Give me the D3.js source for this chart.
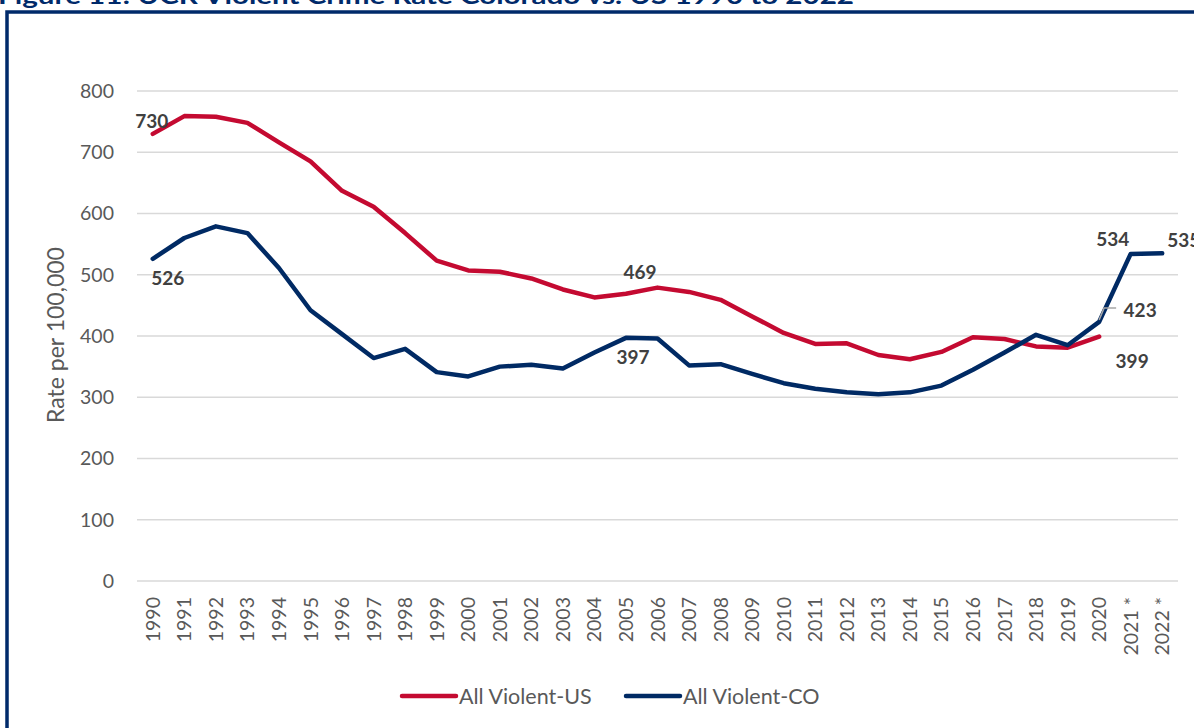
<!DOCTYPE html>
<html>
<head>
<meta charset="utf-8">
<script src="https://cdn.jsdelivr.net/npm/d3@7"></script>
<style>
  html, body { margin: 0; padding: 0; background: #fff; }
  svg { display: block; font-family: Lato, "Open Sans", sans-serif; }
</style>
</head>
<body>
<svg width="1194" height="728"></svg>
<script>
// data
const years = ["1990","1991","1992","1993","1994","1995","1996","1997","1998","1999",
  "2000","2001","2002","2003","2004","2005","2006","2007","2008","2009",
  "2010","2011","2012","2013","2014","2015","2016","2017","2018","2019",
  "2020","2021 *","2022 *"];

const usRate = [730, 759, 758, 748, 716, 685, 637, 611, 568, 523,
  507, 505, 494, 476, 463, 469, 479, 472, 459, 432,
  405, 387, 388, 369, 362, 374, 398, 395, 383, 381,
  399];

const coRate = [526, 560, 579, 568, 511, 442, 403, 364, 379, 341,
  334, 350, 353, 347, 373, 397, 396, 352, 354, 338,
  323, 314, 308, 305, 308, 319, 345, 373, 402, 385,
  423, 534, 535];

const yTicks = [0, 100, 200, 300, 400, 500, 600, 700, 800];

const seriesNames = ["All Violent-US", "All Violent-CO"];
const seriesColors = ["#c40a31", "#002a64"];

const title = "Figure 11: UCR Violent Crime Rate Colorado vs. US 1990 to 2022";

const svg = d3.select("svg");

// frame
svg.append("rect")
  .attr("x", 7).attr("y", 12)
  .attr("width", 1260).attr("height", 800)
  .attr("fill", "none")
  .attr("stroke", "#002a6a")
  .attr("stroke-width", 3.5);

// title, mostly cut off at the top edge
svg.append("text")
  .attr("x", -2).attr("y", 4)
  .attr("font-weight", "bold")
  .attr("font-size", 22)
  .attr("fill", "#002a6a")
  .attr("textLength", 856)
  .attr("lengthAdjust", "spacingAndGlyphs")
  .text(title);

const x = d3.scaleBand().domain(years).range([137, 1178]);
const y = d3.scaleLinear().domain([0, 800]).range([581, 91]);
const cx = d => x(d) + x.bandwidth() / 2;

// grid
svg.append("g")
  .selectAll("line")
  .data(yTicks)
  .join("line")
    .attr("x1", 137).attr("x2", 1178)
    .attr("y1", d => y(d)).attr("y2", d => y(d))
    .attr("stroke", "#d9d9d9")
    .attr("stroke-width", 1.5);

// y axis labels
const yAxis = d3.axisLeft(y).tickValues(yTicks).tickSize(0).tickPadding(23);
svg.append("g")
  .attr("transform", "translate(137,0)")
  .call(yAxis)
  .call(g => g.select(".domain").remove())
  .call(g => g.selectAll("text")
    .attr("font-family", "Lato, sans-serif")
    .attr("font-size", 19.5)
    .attr("fill", "#595959"));

// x axis labels (rotated)
const xAxis = d3.axisBottom(x).tickSize(0).tickPadding(0);
svg.append("g")
  .attr("transform", "translate(0,581)")
  .call(xAxis)
  .call(g => g.select(".domain").remove())
  .call(g => g.selectAll("text")
    .attr("font-family", "Lato, sans-serif")
    .attr("font-size", 19.5)
    .attr("fill", "#595959")
    .attr("text-anchor", "end")
    .attr("dy", null)
    .attr("y", 0)
    .attr("transform", "translate(7,16) rotate(-90)"));

// y axis title
svg.append("text")
  .attr("transform", "translate(64,335) rotate(-90)")
  .attr("text-anchor", "middle")
  .attr("font-size", 23)
  .attr("fill", "#595959")
  .text("Rate per 100,000");

// lines
const line = d3.line()
  .x((d, i) => cx(years[i]))
  .y(d => y(d));

[usRate, coRate].forEach((vals, k) => {
  svg.append("path")
    .datum(vals)
    .attr("d", line)
    .attr("fill", "none")
    .attr("stroke", seriesColors[k])
    .attr("stroke-width", 4.5)
    .attr("stroke-linejoin", "round")
    .attr("stroke-linecap", "round");
});

// data labels: series index, year index, offset from the point
const labelSpec = [
  { s: 0, i: 0,  dx: -1,  dy: -13, anchor: "middle" },
  { s: 1, i: 0,  dx: 15,  dy: 19,  anchor: "middle" },
  { s: 0, i: 15, dx: 14,  dy: -22, anchor: "middle" },
  { s: 1, i: 15, dx: 7,   dy: 19,  anchor: "middle" },
  { s: 1, i: 31, dx: -18, dy: -15, anchor: "middle" },
  { s: 1, i: 32, dx: 5,   dy: -14, anchor: "start" },
  { s: 1, i: 30, dx: 41,  dy: -12, anchor: "middle" },
  { s: 0, i: 30, dx: 33,  dy: 24,  anchor: "middle" }
];

// leader line for the 2020 CO label
const p = [cx(years[30]), y(coRate[30])];
svg.append("path")
  .attr("d", `M${p[0]},${p[1] - 2} L${p[0] + 5},${p[1] - 14} L${p[0] + 17},${p[1] - 14}`)
  .attr("fill", "none")
  .attr("stroke", "#a6a6a6")
  .attr("stroke-width", 1.5);

svg.append("g")
  .selectAll("text")
  .data(labelSpec)
  .join("text")
    .attr("x", d => cx(years[d.i]) + d.dx)
    .attr("y", d => y([usRate, coRate][d.s][d.i]) + d.dy)
    .attr("dominant-baseline", "central")
    .attr("text-anchor", d => d.anchor)
    .attr("font-size", 19)
    .attr("font-weight", "bold")
    .attr("fill", "#404040")
    .text(d => [usRate, coRate][d.s][d.i]);

// legend
const legendX = [402, 626];
const legend = svg.append("g")
  .selectAll("g")
  .data(seriesNames)
  .join("g")
    .attr("transform", (d, i) => `translate(${legendX[i]},696)`);

legend.append("line")
  .attr("x1", 0).attr("x2", 54)
  .attr("stroke", (d, i) => seriesColors[i])
  .attr("stroke-width", 4.5)
  .attr("stroke-linecap", "round");

legend.append("text")
  .attr("x", 57)
  .attr("dominant-baseline", "central")
  .attr("font-size", 21.5)
  .attr("fill", "#595959")
  .text(d => d);
</script>
</body>
</html>
